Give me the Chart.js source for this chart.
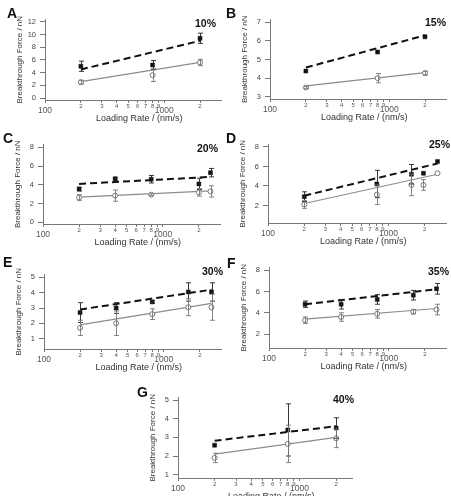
<!DOCTYPE html>
<html>
<head>
<meta charset="utf-8">
<title>Breakthrough force vs loading rate</title>
<script src="https://cdn.jsdelivr.net/npm/chart.js@4.4.1/dist/chart.umd.min.js"></script>
<style>
  body { margin: 0; background: #fff; }
  #page { position: relative; width: 451px; height: 496px; overflow: hidden; font-family: "Liberation Sans", Arial, sans-serif; }
  #page canvas { position: absolute; }
  .letter { position: absolute; font-weight: bold; font-size: 14px; line-height: 14px; color: #111; }
  .pct { position: absolute; font-weight: bold; font-size: 10.5px; line-height: 10.5px; color: #111; }
</style>
</head>
<body>
<div id="page"></div>
<script>
// log axis ticks shared by every panel
const rateTicks = [100, 200, 300, 400, 500, 600, 700, 800, 900, 1000, 2000];
const rateTickLabels = ['100', '2', '3', '4', '5', '6', '7', '8', '9', '1000', '2'];

// A - 10%
const rateA = [200, 800, 2000];
const filledA = [5.0, 5.2, 9.4];
const filledErrA = [0.8, 0.7, 0.8];
const openA = [2.5, 3.6, 5.6];
const openErrA = [0.3, 1.0, 0.5];
const fitFilledA = [4.5, 9.0];
const fitOpenA = [2.6, 5.6];
const yTicksA = [0, 2, 4, 6, 8, 10, 12];

// B - 15%
const rateB = [200, 800, 2000];
const filledB = [4.38, 5.4, 6.22];
const filledErrB = [0, 0, 0];
const openB = [3.5, 4.0, 4.27];
const openErrB = [0.05, 0.25, 0.1];
const fitFilledB = [4.57, 6.3];
const fitOpenB = [3.58, 4.3];
const yTicksB = [3, 4, 5, 6, 7];

// C - 20%
const rateC = [200, 400, 800, 2000, 2500];
const filledC = [3.55, 4.65, 4.6, 4.1, 5.3];
const filledErrC = [0.2, 0.15, 0.4, 0.6, 0.45];
const openC = [2.65, 2.85, 2.95, 3.2, 3.3];
const openErrC = [0.3, 0.6, 0.1, 0.4, 0.6];
const fitFilledC = [4.1, 4.85];
const fitOpenC = [2.7, 3.35];
const yTicksC = [0, 2, 4, 6, 8];

// D - 25%
const rateD = [200, 800, 1550, 1950, 2550];
const filledD = [2.9, 4.2, 5.2, 5.3, 6.5];
const filledErrD = [0.5, 1.4, 1.0, 0, 0];
const openD = [2.1, 3.1, 4.1, 4.1, 5.3];
const openErrD = [0.4, 1.0, 1.1, 0.55, 0];
const fitFilledD = [3.0, 6.3];
const fitOpenD = [2.2, 5.2];
const yTicksD = [2, 4, 6, 8];

// E - 30%
const rateE = [200, 400, 800, 1600, 2500];
const filledE = [2.7, 3.0, 3.4, 4.05, 4.05];
const filledErrE = [0.65, 0.35, 0.1, 0.6, 0.6];
const openE = [1.7, 2.0, 2.6, 3.05, 3.05];
const openErrE = [0.5, 0.8, 0.35, 0.55, 0.85];
const fitFilledE = [2.9, 4.2];
const fitOpenE = [1.9, 3.3];
const yTicksE = [1, 2, 3, 4, 5];

// F - 35%
const rateF = [200, 400, 800, 1600, 2500];
const filledF = [4.8, 4.8, 5.25, 5.65, 6.25];
const filledErrF = [0.3, 0.45, 0.45, 0.45, 0.5];
const openF = [3.3, 3.6, 3.9, 4.1, 4.3];
const openErrF = [0.3, 0.4, 0.4, 0.2, 0.5];
const fitFilledF = [4.8, 6.2];
const fitOpenF = [3.4, 4.4];
const yTicksF = [2, 4, 6, 8];

// G - 40%
const rateG = [200, 800, 2000];
const filledG = [2.58, 3.4, 3.5];
const filledErrG = [0, 1.4, 0.55];
const openG = [1.9, 2.65, 2.95];
const openErrG = [0.25, 1.0, 0.5];
const fitFilledG = [2.82, 3.6];
const fitOpenG = [2.1, 3.0];
const yTicksG = [1, 2, 3, 4, 5];

// box = plot area [left, top, right, bottom] on the page
const panels = [
  { letter: 'A', pct: '10%', rate: rateA, filled: filledA, filledErr: filledErrA, open: openA, openErr: openErrA,
    fitFilled: fitFilledA, fitOpen: fitOpenA, yTicks: yTicksA, yRange: [-0.3, 12.35], xMax: 3000,
    box: [45, 17, 222, 100], letterPos: [7, 6], pctPos: [195, 17.6] },
  { letter: 'B', pct: '15%', rate: rateB, filled: filledB, filledErr: filledErrB, open: openB, openErr: openErrB,
    fitFilled: fitFilledB, fitOpen: fitOpenB, yTicks: yTicksB, yRange: [2.88, 7.15], xMax: 3000,
    box: [270, 17, 447, 99], letterPos: [226, 6], pctPos: [425, 16.6] },
  { letter: 'C', pct: '20%', rate: rateC, filled: filledC, filledErr: filledErrC, open: openC, openErr: openErrC,
    fitFilled: fitFilledC, fitOpen: fitOpenC, yTicks: yTicksC, yRange: [-0.17, 8.3], xMax: 3000,
    box: [43, 142, 221, 224], letterPos: [3, 131], pctPos: [197, 142.6] },
  { letter: 'D', pct: '25%', rate: rateD, filled: filledD, filledErr: filledErrD, open: openD, openErr: openErrD,
    fitFilled: fitFilledD, fitOpen: fitOpenD, yTicks: yTicksD, yRange: [0.2, 8.25], xMax: 3000,
    box: [268, 142, 447, 223], letterPos: [226, 131], pctPos: [429, 138.6] },
  { letter: 'E', pct: '30%', rate: rateE, filled: filledE, filledErr: filledErrE, open: openE, openErr: openErrE,
    fitFilled: fitFilledE, fitOpen: fitOpenE, yTicks: yTicksE, yRange: [0.32, 5.19], xMax: 3000,
    box: [44, 272, 222, 349], letterPos: [3, 255], pctPos: [202, 265.6] },
  { letter: 'F', pct: '35%', rate: rateF, filled: filledF, filledErr: filledErrF, open: openF, openErr: openErrF,
    fitFilled: fitFilledF, fitOpen: fitOpenF, yTicks: yTicksF, yRange: [0.69, 8.25], xMax: 3000,
    box: [269, 265, 447, 348], letterPos: [227, 256], pctPos: [428, 265.6] },
  { letter: 'G', pct: '40%', rate: rateG, filled: filledG, filledErr: filledErrG, open: openG, openErr: openErrG,
    fitFilled: fitFilledG, fitOpen: fitOpenG, yTicks: yTicksG, yRange: [0.82, 5.14], xMax: 2700,
    box: [178, 395, 353, 478], letterPos: [137, 385], pctPos: [333, 393.6] }
];

Chart.defaults.font.family = '"Liberation Sans", Arial, sans-serif';

const page = document.getElementById('page');

// vertical error bars with small caps, from each dataset's errors list
const errorBars = {
  id: 'errorBars',
  afterDatasetsDraw(chart) {
    const { ctx, scales: { x, y } } = chart;
    chart.data.datasets.forEach(ds => {
      if (!ds.errors) return;
      ctx.save();
      ctx.strokeStyle = ds.errorColor;
      ctx.lineWidth = 0.9;
      ds.data.forEach((pt, i) => {
        const e = ds.errors[i];
        if (!e) return;
        const px = Math.round(x.getPixelForValue(pt.x)) + 0.5;
        const top = y.getPixelForValue(pt.y + e);
        const bot = y.getPixelForValue(pt.y - e);
        ctx.beginPath();
        ctx.moveTo(px, top); ctx.lineTo(px, bot);
        ctx.moveTo(px - 2.5, top); ctx.lineTo(px + 2.5, top);
        ctx.moveTo(px - 2.5, bot); ctx.lineTo(px + 2.5, bot);
        ctx.stroke();
      });
      ctx.restore();
    });
  }
};

const addLabel = (cls, text, pos) => {
  const el = document.createElement('div');
  el.className = cls;
  el.textContent = text;
  el.style.left = pos[0] + 'px';
  el.style.top = pos[1] + 'px';
  page.appendChild(el);
};

const makePanel = (p) => {
  const [L, T, R, B] = p.box;
  const w = R - L + 45 + 4;
  const h = B - T + 6 + 25;
  const canvas = document.createElement('canvas');
  canvas.width = w;
  canvas.height = h;
  canvas.style.left = (L - 45) + 'px';
  canvas.style.top = (T - 6) + 'px';
  canvas.style.width = w + 'px';
  canvas.style.height = h + 'px';
  page.appendChild(canvas);

  const last = p.rate.length - 1;
  const pts = (ys) => p.rate.map((r, i) => ({ x: r, y: ys[i] }));

  new Chart(canvas, {
    type: 'scatter',
    data: {
      datasets: [
        { data: pts(p.filled), errors: p.filledErr, errorColor: '#222',
          pointStyle: 'rect', pointRadius: 2.8, backgroundColor: '#111', borderColor: '#111', borderWidth: 0.5 },
        { data: pts(p.open), errors: p.openErr, errorColor: '#777',
          pointStyle: 'circle', pointRadius: 2.5, backgroundColor: '#fff', borderColor: '#777', borderWidth: 1 },
        { data: [{ x: p.rate[0], y: p.fitFilled[0] }, { x: p.rate[last], y: p.fitFilled[1] }],
          showLine: true, pointRadius: 0, borderColor: '#111', borderWidth: 2, borderDash: [7, 4] },
        { data: [{ x: p.rate[0], y: p.fitOpen[0] }, { x: p.rate[last], y: p.fitOpen[1] }],
          showLine: true, pointRadius: 0, borderColor: '#8c8c8c', borderWidth: 1.2 }
      ]
    },
    options: {
      responsive: false,
      animation: false,
      layout: { padding: { top: 6, right: 4, left: 0, bottom: 0 } },
      plugins: { legend: { display: false }, tooltip: { enabled: false } },
      scales: {
        x: {
          type: 'logarithmic', min: 100, max: p.xMax, bounds: 'data',
          afterBuildTicks: (s) => { s.ticks = rateTicks.map(v => ({ value: v })); },
          afterFit: (s) => { s.height = 25; },
          grid: { drawOnChartArea: false, tickLength: 3, color: '#777' },
          border: { color: '#777' },
          ticks: {
            autoSkip: false, maxRotation: 0, padding: 0, color: '#555',
            callback: (v, i) => rateTickLabels[i],
            font: (ctx) => (rateTickLabels[ctx.index] || '').length > 1
              ? { size: 8.5, lineHeight: 1.9 }
              : { size: 6, lineHeight: 1.0 }
          },
          title: { display: true, text: '     Loading Rate / (nm/s)', color: '#333', font: { size: 9 }, padding: { top: 0, bottom: 1 } }
        },
        y: {
          min: p.yRange[0], max: p.yRange[1], bounds: 'data',
          afterBuildTicks: (s) => { s.ticks = p.yTicks.map(v => ({ value: v })); },
          afterFit: (s) => { s.width = 45; },
          grid: { drawOnChartArea: false, tickLength: 5, color: '#777' },
          border: { color: '#777' },
          ticks: { padding: 4, color: '#444', font: { size: 7.5 } },
          title: { display: true, text: 'Breakthrough Force / nN', color: '#333', font: { size: 8 }, padding: { top: 15, bottom: 0 } }
        }
      }
    },
    plugins: [errorBars]
  });

  addLabel('letter', p.letter, p.letterPos);
  addLabel('pct', p.pct, p.pctPos);
};

panels.forEach(makePanel);
</script>
</body>
</html>
